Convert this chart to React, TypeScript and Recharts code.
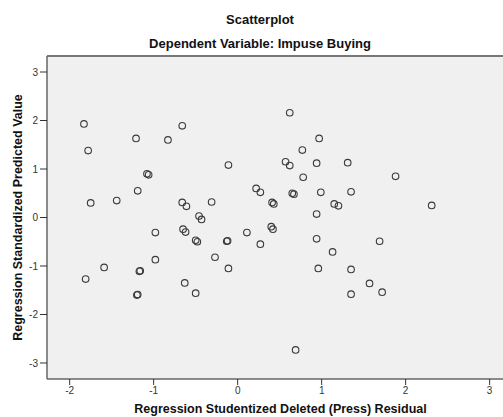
import React from 'react'
import { ScatterChart, Scatter, XAxis, YAxis, CartesianGrid, ReferenceLine, Label } from 'recharts'

// Regression Studentized Deleted (Press) Residual
const residual = [
  -1.83, -0.66, -1.21, -0.83, -1.78, -1.08, -1.06, -1.19, -1.75, -1.44,
  -0.66, -0.61, -0.46, -0.43, -0.98, -0.65, -0.62, -0.50, -0.48, -0.98,
  -1.59, -1.81, -1.17, -1.16, -1.20, -1.19, -0.63, -0.50, 0.62, 0.97,
  0.77, -0.11, 0.57, 0.62, 0.94, 1.31, 0.78, 0.22, 0.27, 0.65,
  0.67, 0.99, 1.35, -0.31, 0.41, 0.43, 1.15, 1.20, 0.94, 0.40,
  0.42, 0.11, -0.13, -0.12, 0.27, 0.94, 1.13, -0.27, -0.11, 0.96,
  1.35, 1.35, 0.69, 2.31, 1.69, 1.57, 1.72, 1.88,
]

// Regression Standardized Predicted Value
const predicted = [
  1.93, 1.89, 1.63, 1.60, 1.38, 0.90, 0.88, 0.55, 0.30, 0.35,
  0.31, 0.23, 0.03, -0.04, -0.31, -0.24, -0.30, -0.47, -0.50, -0.87,
  -1.03, -1.27, -1.11, -1.10, -1.60, -1.59, -1.35, -1.56, 2.16, 1.63,
  1.39, 1.08, 1.15, 1.07, 1.12, 1.13, 0.83, 0.60, 0.52, 0.50,
  0.48, 0.52, 0.53, 0.32, 0.31, 0.28, 0.28, 0.24, 0.07, -0.19,
  -0.24, -0.31, -0.49, -0.48, -0.55, -0.44, -0.71, -0.82, -1.05, -1.05,
  -1.07, -1.58, -2.73, 0.25, -0.49, -1.36, -1.54, 0.85,
]

const xTicks = [-2, -1, 0, 1, 2, 3]
const yTicks = [-3, -2, -1, 0, 1, 2, 3]

const points = residual.map((x, i) => ({ x, y: predicted[i] }))

const font = '"Liberation Sans", Arial, sans-serif'

const Ring = (props: any) => {
  const { cx, cy } = props
  return <circle cx={cx} cy={cy} r={3.3} fill="none" stroke="#3a3a3a" strokeWidth={1.1} />
}

export default function App() {
  return (
    <div style={{ position: 'absolute', left: 0, top: 0, width: 503, height: 417, overflow: 'hidden', background: '#fff', fontFamily: font }}>
      <div style={{ position: 'absolute', left: 0, top: 12, width: 520, textAlign: 'center', fontSize: 13, fontWeight: 'bold', color: '#111' }}>
        Scatterplot
      </div>
      <div style={{ position: 'absolute', left: 0, top: 36, width: 520, textAlign: 'center', fontSize: 13, fontWeight: 'bold', color: '#111' }}>
        Dependent Variable: Impuse Buying
      </div>
      <ScatterChart width={514} height={417} margin={{ top: 56, right: 0, bottom: 0, left: 0 }} style={{ position: 'absolute', left: 0, top: 0 }}>
        <CartesianGrid fill="#f0f0f0" horizontal={false} vertical={false} />
        <XAxis
          type="number"
          dataKey="x"
          domain={[-2.27, 3.29]}
          ticks={xTicks}
          height={38}
          tickSize={6}
          stroke="#666"
          strokeWidth={1.5}
          tick={{ fontSize: 10, fill: '#333', fontFamily: font }}
          tickLine={{ stroke: '#333', strokeWidth: 1 }}
          allowDataOverflow
        >
          <Label value="Regression Studentized Deleted (Press) Residual" position="insideBottom" offset={4} style={{ fontSize: 12.5, fontWeight: 'bold', fill: '#111', fontFamily: font }} />
        </XAxis>
        <YAxis
          type="number"
          dataKey="y"
          domain={[-3.33, 3.33]}
          ticks={yTicks}
          width={47}
          tickSize={7}
          stroke="#666"
          strokeWidth={1.5}
          tick={{ fontSize: 10, fill: '#333', fontFamily: font }}
          tickLine={{ stroke: '#333', strokeWidth: 1 }}
          allowDataOverflow
        >
          <Label value="Regression Standardized Predicted Value" angle={-90} position="insideLeft" offset={18} style={{ textAnchor: 'middle', fontSize: 12.5, fontWeight: 'bold', fill: '#111', fontFamily: font }} />
        </YAxis>
        <ReferenceLine y={3.33} stroke="#777" strokeWidth={2} />
        <Scatter data={points} shape={Ring} isAnimationActive={false} />
      </ScatterChart>
    </div>
  )
}
